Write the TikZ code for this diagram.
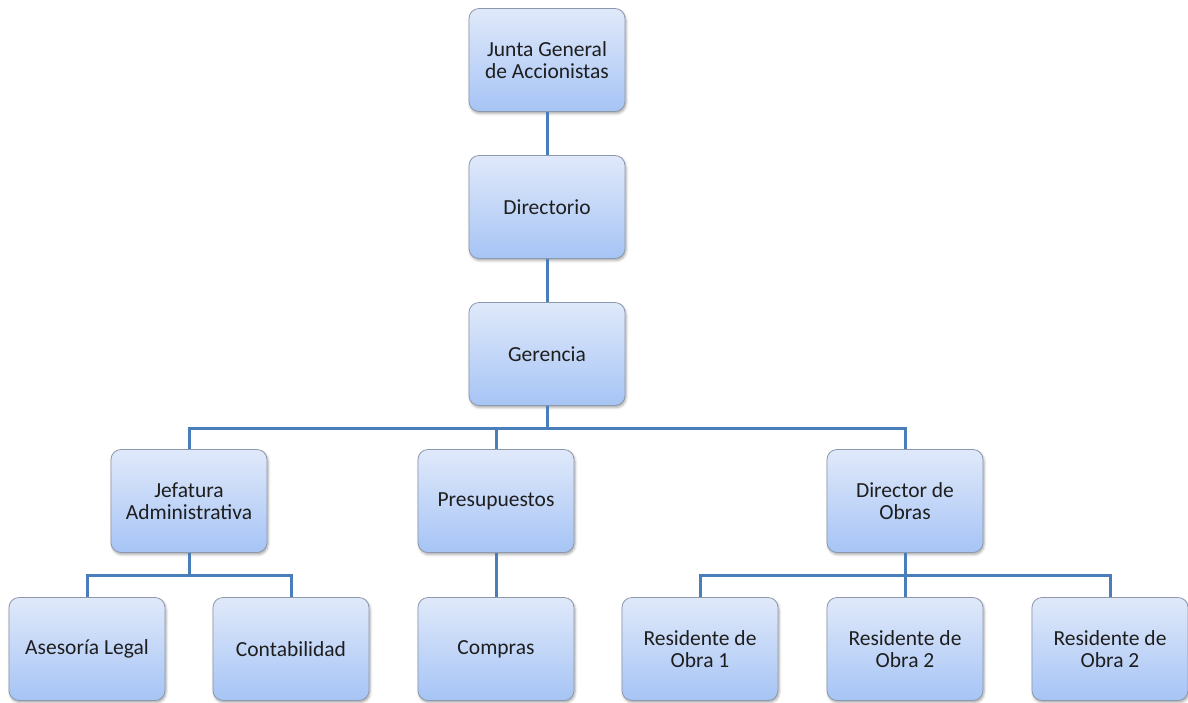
\documentclass[tikz,border=0pt]{standalone}
\usepackage{fontspec}
\setmainfont{Carlito}
\usepackage{xcolor}
\usepackage{tikz}
\usetikzlibrary{positioning, calc, shadows.blur}
\definecolor{orgEdge}{RGB}{140,152,172}
\definecolor{orgTop}{RGB}{224,233,250}
\definecolor{orgBot}{RGB}{166,196,245}
\definecolor{orgLink}{RGB}{74,126,187}
\definecolor{orgInk}{RGB}{30,30,30}

\begin{document}
\begin{tikzpicture}[x=1pt, y=-1pt,
  orgbox/.style={draw=orgEdge, line width=0.8pt, rounded corners=10pt,
        top color=orgTop, bottom color=orgBot,
        minimum width=156pt, minimum height=103pt, inner sep=2pt,
        align=center, text=orgInk, font=\fontsize{21.5}{22}\selectfont,
        blur shadow={shadow xshift=1pt, shadow yshift=-2pt,
                     shadow blur radius=2.5pt, shadow opacity=35}},
  orgline/.style={draw=orgLink, line width=3pt}]
\useasboundingbox (0,0) rectangle (1188,702);

% Boxes of the chart
\foreach \x/\y/\name/\txt in {
   547/60/jun/{Junta General\\de Accionistas},
   547/207/dio/{Directorio},
   547/354/ger/{Gerencia},
   189/501/jef/{Jefatura\\Administrativa},
   496/501/pre/{Presupuestos},
   905/501/dob/{Director de\\Obras},
   87/649/ase/{Asesoría Legal},
   291/649/con/{Contabilidad},
   496/649/com/{Compras},
   700/649/re1/{Residente de\\Obra 1},
   905/649/re2/{Residente de\\Obra 2},
   1110/649/re3/{Residente de\\Obra 2}}
{
  \node[orgbox] (\name) at (\x,\y) {\txt};
}

% Straight links
\draw[orgline] (jun) -- (dio);
\draw[orgline] (dio) -- (ger);
\draw[orgline] (pre) -- (com);

% Bus links
\foreach \kid in {jef, pre, dob}
  \draw[orgline] (ger.south) -- ++(0,23) -| (\kid.north);
\foreach \kid in {ase, con}
  \draw[orgline] (jef.south) -- ++(0,23) -| (\kid.north);
\foreach \kid in {re1, re2, re3}
  \draw[orgline] (dob.south) -- ++(0,23) -| (\kid.north);

\end{tikzpicture}
\end{document}
